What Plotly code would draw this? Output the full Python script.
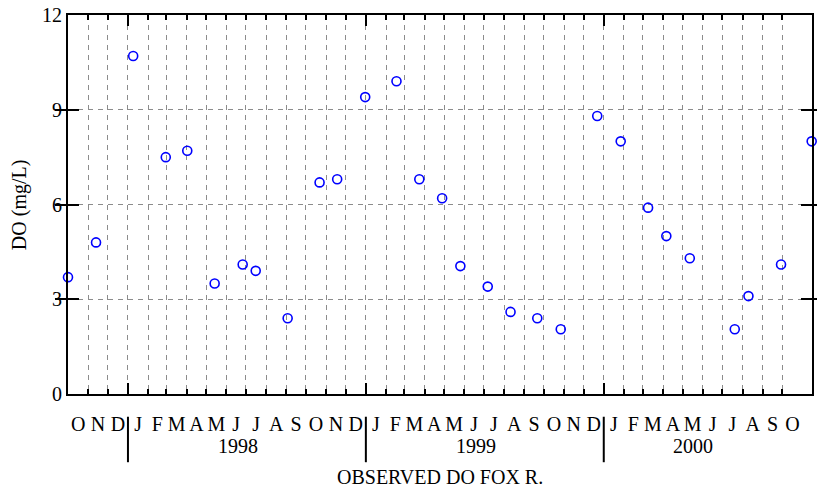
import pandas as pd
import plotly.graph_objects as go

# ---- data ----
sample_dates = [
    "1997-10-01", "1997-11-13", "1998-01-09", "1998-02-28", "1998-04-02",
    "1998-05-14", "1998-06-26", "1998-07-16", "1998-09-03", "1998-10-22",
    "1998-11-18", "1998-12-31", "1999-02-17", "1999-03-24", "1999-04-28",
    "1999-05-26", "1999-07-07", "1999-08-11", "1999-09-21", "1999-10-27",
    "1999-12-22", "2000-01-27", "2000-03-09", "2000-04-06", "2000-05-12",
    "2000-07-20", "2000-08-10", "2000-09-29", "2000-11-15",
]
do_values = [
    3.7, 4.8, 10.7, 7.5, 7.7,
    3.5, 4.1, 3.9, 2.4, 6.7,
    6.8, 9.4, 9.9, 6.8, 6.2,
    4.05, 3.4, 2.6, 2.4, 2.05,
    8.8, 8.0, 5.9, 5.0, 4.3,
    2.05, 3.1, 4.1, 8.0,
]
x_range = ["1997-10-01", "2000-11-15 12:00"]
year_starts = ["1998-01-01", "1999-01-01", "2000-01-01"]
year_labels = ["1998", "1999", "2000"]
year_label_dates = ["1998-06-19", "1999-06-19", "2000-05-17"]
y_ticks = [0, 3, 6, 9, 12]
month_letters = ["J", "F", "M", "A", "M", "J", "J", "A", "S", "O", "N", "D"]

# month boundaries (grid) and month centres (labels)
month_starts = pd.date_range("1997-11-01", "2000-10-01", freq="MS")
label_months = pd.date_range("1997-10-01", "2000-10-01", freq="MS")
month_mids = [m + (m + pd.offsets.MonthBegin(1) - m) / 2 for m in label_months]
month_text = [month_letters[m.month - 1] for m in label_months]

FONT = "Liberation Serif"
GRID = "#8c8c8c"

fig = go.Figure()
fig.add_trace(go.Scatter(
    x=sample_dates, y=do_values, mode="markers",
    marker=dict(symbol="circle-open", size=9, color="#0000ff",
                line=dict(width=1.6, color="#0000ff")),
    cliponaxis=False, showlegend=False,
))
# invisible trace to carry the month-label axis
fig.add_trace(go.Scatter(
    x=month_mids, y=[None] * len(month_mids), xaxis="x2",
    mode="markers", showlegend=False, hoverinfo="skip",
))

fig.update_layout(
    width=817, height=491,
    margin=dict(l=68, r=5, t=15, b=97, autoexpand=False),
    paper_bgcolor="white", plot_bgcolor="white",
    font=dict(family=FONT, size=20, color="black"),
    xaxis=dict(
        type="date", range=x_range, automargin=False,
        tickmode="array", tickvals=year_starts,
        ticks="inside", ticklen=11, tickwidth=1.5, tickcolor="black",
        showticklabels=False,
        showgrid=True, gridcolor=GRID, griddash="5px,5px", gridwidth=1,
        minor=dict(tickvals=list(month_starts), ticks="inside", ticklen=5,
                   tickwidth=1.5, tickcolor="black",
                   showgrid=True, gridcolor=GRID, griddash="5px,5px", gridwidth=1),
        showline=True, linecolor="black", linewidth=2, mirror="allticks",
        zeroline=False,
    ),
    xaxis2=dict(
        type="date", range=x_range, overlaying="x", anchor="y", side="bottom",
        automargin=False, ticklabeloverflow="allow",
        tickmode="array", tickvals=month_mids, ticktext=month_text,
        ticks="outside", ticklen=12, tickcolor="rgba(0,0,0,0)",
        tickfont=dict(family=FONT, size=20, color="black"),
        showgrid=False, showline=False, zeroline=False,
    ),
    yaxis=dict(
        range=[0, 12], tickmode="array", tickvals=y_ticks, automargin=False,
        ticklabeloverflow="allow",
        ticks="inside", ticklen=11, tickwidth=1.5, tickcolor="black",
        tickfont=dict(family=FONT, size=20, color="black"),
        showgrid=True, gridcolor=GRID, griddash="5px,5px", gridwidth=1,
        showline=True, linecolor="black", linewidth=2, mirror="allticks",
        zeroline=False,
    ),
)

# year separator lines below the axis
for ys in year_starts:
    fig.add_shape(type="line", xref="x", yref="paper", x0=ys, x1=ys,
                  y0=-0.06, y1=-0.18, line=dict(color="black", width=2),
                  layer="above")

# year labels
for d, lab in zip(year_label_dates, year_labels):
    fig.add_annotation(x=d, xref="x", y=-0.137, yref="paper", text=lab,
                       showarrow=False, yanchor="middle",
                       font=dict(family=FONT, size=20, color="black"))

# axis titles
fig.add_annotation(x=0.5, xref="paper", y=-0.219, yref="paper",
                   text="OBSERVED DO FOX R.", showarrow=False,
                   yanchor="middle",
                   font=dict(family=FONT, size=20, color="black"))
fig.add_annotation(x=-0.065, xref="paper", y=0.5, yref="paper",
                   text="DO (mg/L)", showarrow=False, textangle=-90,
                   xanchor="center", yanchor="middle",
                   font=dict(family=FONT, size=20, color="black"))

# remove the browser's default 8px body margin so the figure fills the window
fig.write_html("out.html",
               config={"displayModeBar": False},
               post_script="document.body.style.margin='0';"
                           "document.body.style.overflow='hidden';")
